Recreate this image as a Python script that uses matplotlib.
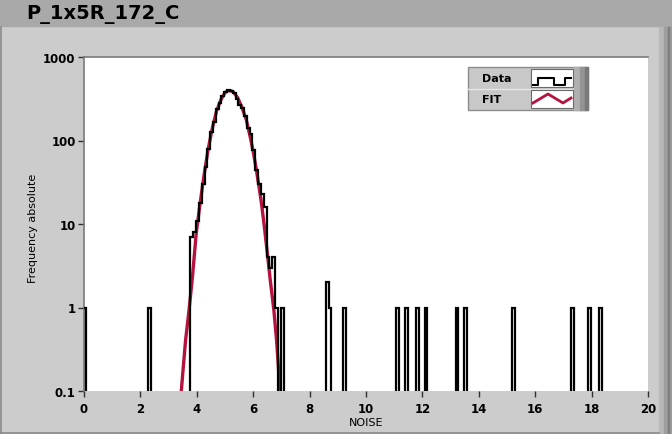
import matplotlib
matplotlib.use("Agg")
import matplotlib.pyplot as plt
import numpy as np
from matplotlib.lines import Line2D
from matplotlib.patches import Rectangle

TITLE = "P_1x5R_172_C"

# histogram: bin centres (NOISE) and absolute counts, bin width 0.1
BIN_CENTERS = [0.025, 2.325,
               3.825, 3.925, 4.025, 4.125, 4.225, 4.325, 4.425, 4.525, 4.625, 4.725,
               4.825, 4.925, 5.025, 5.125, 5.225, 5.325, 5.425, 5.525, 5.625, 5.725,
               5.825, 5.925, 6.025, 6.125, 6.225, 6.325, 6.425, 6.525, 6.625, 6.725,
               6.825, 7.025,
               8.625, 8.725, 9.225, 11.125, 11.425, 11.825, 12.125, 13.225, 13.525,
               15.225, 17.325, 17.925, 18.325]
COUNTS = [1, 1,
          7, 8, 11, 18, 30, 48, 80, 125, 168, 240,
          285, 345, 385, 398, 392, 375, 318, 268, 248, 198,
          140, 118, 76, 44, 30, 23, 16, 4, 3, 4,
          1, 1,
          2, 1, 1, 1, 1, 1, 1, 1, 1,
          1, 1, 1, 1]
BIN_WIDTH = 0.1

# fit curve
FIT_X = [3.45, 3.6, 3.72, 3.85, 3.98, 4.1, 4.25, 4.4, 4.55, 4.7, 4.85, 5.0, 5.1,
         5.2, 5.3, 5.45, 5.6, 5.75, 5.9, 6.0, 6.1, 6.2, 6.3, 6.4, 6.5, 6.6, 6.73,
         6.83, 6.95]
FIT_Y = [0.1, 0.4, 0.9, 2.4, 7.8, 16, 37, 78, 140, 225, 305, 375, 393,
         395, 380, 325, 250, 180, 108, 74, 47, 29, 17, 9, 4.5, 2.2, 0.95,
         0.4, 0.1]

X_TICKS = [0, 2, 4, 6, 8, 10, 12, 14, 16, 18, 20]
Y_TICKS = [0.1, 1, 10, 100, 1000]
Y_TICK_LABELS = ["0.1", "1", "10", "100", "1000"]

W, H = 672, 435


def fx(px):
    return px / W


def fy(py):
    return 1 - py / H


def build_hist():
    n = int(round(20 / BIN_WIDTH))
    edges = np.arange(n + 1) * BIN_WIDTH - 0.025
    vals = np.full(n, 1e-3)
    for c, v in zip(BIN_CENTERS, COUNTS):
        vals[int(round((c - 0.025) / BIN_WIDTH))] = v
    return edges, vals


def draw_frame(fig):
    fig.patches.append(Rectangle((0, fy(27)), 1, 27 / H, transform=fig.transFigure,
                                 color="#a9a9a9", zorder=0))
    # 3D edge on the right
    for x0, x1, col in [(659, 664, "#b8b8b8"), (664, 668, "#9e9e9e"),
                        (668, 670, "#7c7c7c"), (670, 672, "#9a9a9a")]:
        fig.patches.append(Rectangle((fx(x0), 0), fx(x1 - x0), fy(28), transform=fig.transFigure,
                                     color=col, zorder=0))
    fig.add_artist(Line2D([fx(0.5), fx(0.5)], [0, fy(28)], color="#8a8a8a", lw=1.2,
                          transform=fig.transFigure))
    fig.add_artist(Line2D([0, fx(659)], [fy(433.5), fy(433.5)], color="#8a8a8a", lw=1.2,
                          transform=fig.transFigure))
    fig.text(fx(26), fy(14), TITLE, fontsize=14, fontweight="bold", va="center", ha="left")


def draw_legend(fig):
    fig.patches.append(Rectangle((fx(468), fy(111)), fx(120), 43 / H, transform=fig.transFigure,
                                 facecolor="#c8c8c8", edgecolor="#8c8c8c", lw=1, zorder=5))
    for x0, x1, col in [(574, 580, "#b0b0b0"), (580, 585, "#949494"), (585, 588, "#7a7a7a")]:
        fig.patches.append(Rectangle((fx(x0), fy(111)), fx(x1 - x0), 43 / H,
                                     transform=fig.transFigure, color=col, zorder=6))
    fig.add_artist(Line2D([fx(468), fx(574)], [fy(89.5), fy(89.5)], color="#e6e6e6", lw=1,
                          transform=fig.transFigure, zorder=6))
    for y0 in (70, 91):
        fig.patches.append(Rectangle((fx(531), fy(y0 + 18)), fx(42), 18 / H,
                                     transform=fig.transFigure, facecolor="white",
                                     edgecolor="#6a6a6a", lw=0.8, zorder=6))
    fig.text(fx(482), fy(79), "Data", fontsize=8, fontweight="bold", va="center", zorder=7)
    fig.text(fx(482), fy(100), "FIT", fontsize=8, fontweight="bold", va="center", zorder=7)
    sx = [533, 538, 538, 554, 554, 565, 565, 571]
    sy = [86, 86, 79, 79, 86, 86, 79, 79]
    fig.add_artist(Line2D([fx(v) for v in sx], [fy(v) for v in sy], color="black", lw=1.5,
                          transform=fig.transFigure, zorder=8))
    zx = [533, 548, 563, 571]
    zy = [104, 95, 104, 99]
    fig.add_artist(Line2D([fx(v) for v in zx], [fy(v) for v in zy], color="#b5123f", lw=2,
                          transform=fig.transFigure, zorder=8))


def main():
    fig = plt.figure(figsize=(W / 100, H / 100), dpi=100, facecolor="#cccccc")
    ax = fig.add_axes([fx(84), fy(392), fx(648 - 84), (392 - 58) / H])
    ax.set_facecolor("white")

    edges, vals = build_hist()
    ax.stairs(vals, edges, baseline=1e-3, color="black", lw=1.6, zorder=3)
    ax.plot(FIT_X, FIT_Y, color="#b5123f", lw=2.4, zorder=2)

    ax.set_yscale("log")
    ax.set_xlim(0, 20)
    ax.set_ylim(0.1, 1000)
    ax.set_xticks(X_TICKS)
    ax.set_xticklabels([str(t) for t in X_TICKS])
    ax.set_yticks(Y_TICKS)
    ax.set_yticklabels(Y_TICK_LABELS)
    ax.minorticks_off()
    ax.tick_params(length=4, width=1, color="#303030", labelsize=8.5, pad=2)
    ax.tick_params(axis="x", pad=4)
    for lab in ax.get_xticklabels() + ax.get_yticklabels():
        lab.set_fontweight("bold")
    for s in ("right", "bottom"):
        ax.spines[s].set_visible(False)
    for s in ("left", "top"):
        ax.spines[s].set_color("#7a7a7a")
        ax.spines[s].set_linewidth(1.2)

    fig.text(fx(33), fy(228), "Frequency absolute", rotation=90, fontsize=8,
             ha="center", va="center")
    fig.text(fx(366), fy(423), "NOISE", fontsize=8, ha="center", va="center")

    draw_frame(fig)
    draw_legend(fig)

    fig.savefig("out.png", dpi=100, facecolor=fig.get_facecolor())


if __name__ == "__main__":
    main()
